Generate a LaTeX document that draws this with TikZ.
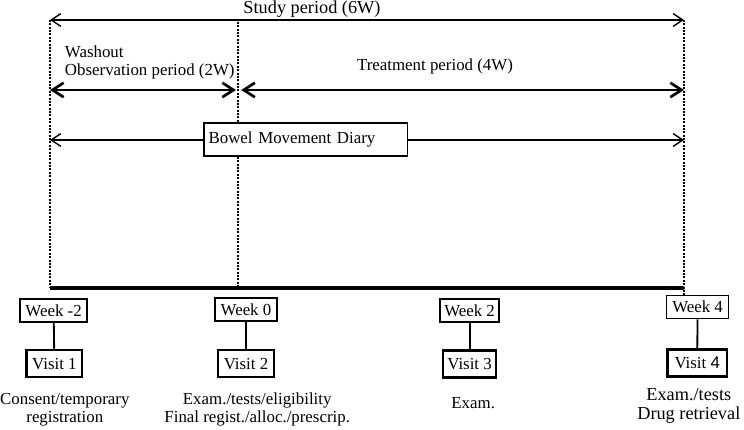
\documentclass[tikz,border=0pt]{standalone}
\usepackage{fontspec}
\setmainfont{Liberation Serif}
\newfontfamily\digitfont{Liberation Sans}
\usepackage{tikz}
\usetikzlibrary{arrows.meta}

\begin{document}
\begin{tikzpicture}[font=\fontsize{12}{12.8}\selectfont,
	>={Straight Barb[length=2.4mm,width=3.2mm]},
	dotline/.style={densely dotted,line width=1.4pt},
	thinarrow/.style={<->,line width=1pt},
	thickarrow/.style={<->,line width=1.9pt,>={Straight Barb[length=2.8mm,width=3.6mm]}},
	weekbox/.style={draw,line width=1.3pt,inner xsep=4pt,minimum height=0.58cm},
	visitbox/.style={draw,line width=1.6pt,inner xsep=4pt,minimum height=0.68cm},
	link/.style={line width=1.3pt}]
	\useasboundingbox (0,0) rectangle (18.6,10.75);
	\coordinate (lt) at (1.25,10.25);
	\coordinate (lb) at (1.25,3.55);
	\coordinate (mt) at (5.95,10.2);
	\coordinate (mb) at (5.95,3.55);
	\coordinate (rt) at (17.1,10.25);
	\coordinate (ra) at (17.1,3.55);
	\coordinate (rb) at (17.1,3.35);
	\draw[dotline] (lt) -- (lb);
	\draw[dotline] (mt) -- (mb);
	\draw[dotline] (rt) -- (rb);
	\draw[line width=2.4pt] (lb) -- (ra);
	\draw[thinarrow] (lt) -- (rt);
	\node[font=\fontsize{13}{14}\selectfont,anchor=base,inner sep=0pt] (study) at (7.8,10.4) {Study period (6W)};
	\node[align=left,anchor=north west] (wash) at (1.5,9.72) {Washout\\Observation period (2W)};
	\node (treat) at (10.875,9.1) {Treatment period (4W)};
	\coordinate (wl) at (1.25,8.5);
	\coordinate (wr) at (5.9,8.5);
	\coordinate (tl) at (6.03,8.5);
	\coordinate (tr) at (17.1,8.5);
	\draw[thickarrow] (wl) -- (wr);
	\draw[thickarrow] (tl) -- (tr);
	\coordinate (dl) at (1.25,7.25);
	\coordinate (dr) at (17.1,7.25);
	\draw[thinarrow] (dl) -- (dr);
	\node[draw,fill=white,line width=1.2pt,text width=4.85cm,align=left,inner xsep=0.12cm,minimum height=0.825cm] (diary) at (7.64,7.26) {Bowel Movement Diary};
	\node[weekbox] (week1) at (1.34,2.99) {Week -2};
	\node[weekbox] (week2) at (6.15,3.01) {Week 0};
	\node[weekbox,inner xsep=3pt] (week3) at (11.74,2.99) {Week 2};
	\node[weekbox,line width=1pt] (week4) at (17.44,3.075) {Week 4};
	\node[visitbox] (visit1) at (1.36,1.66) {Visit 1};
	\node[visitbox] (visit2) at (6.15,1.66) {Visit 2};
	\node[visitbox,inner xsep=3pt] (visit3) at (11.74,1.65) {Visit 3};
	\node[visitbox,inner xsep=5pt] (visit4) at (17.43,1.675) {Visit {\digitfont 4}};
	\draw[link] (week1) -- (visit1);
	\draw[link] (week2) -- (visit2);
	\draw[link] (week3) -- (visit3);
	\draw[link] (week4) -- (visit4);
	\node[align=center] (note1) at (1.62,0.51) {Consent/temporary\\registration};
	\node[align=center] (note2) at (6.43,0.51) {Exam./tests/eligibility\\Final regist./alloc./prescrip.};
	\node (note3) at (11.83,0.675) {Exam.};
	\node[align=center,font=\fontsize{13}{13.5}\selectfont] (note4) at (17.22,0.6) {Exam./tests\\Drug retrieval};
\end{tikzpicture}
\end{document}
